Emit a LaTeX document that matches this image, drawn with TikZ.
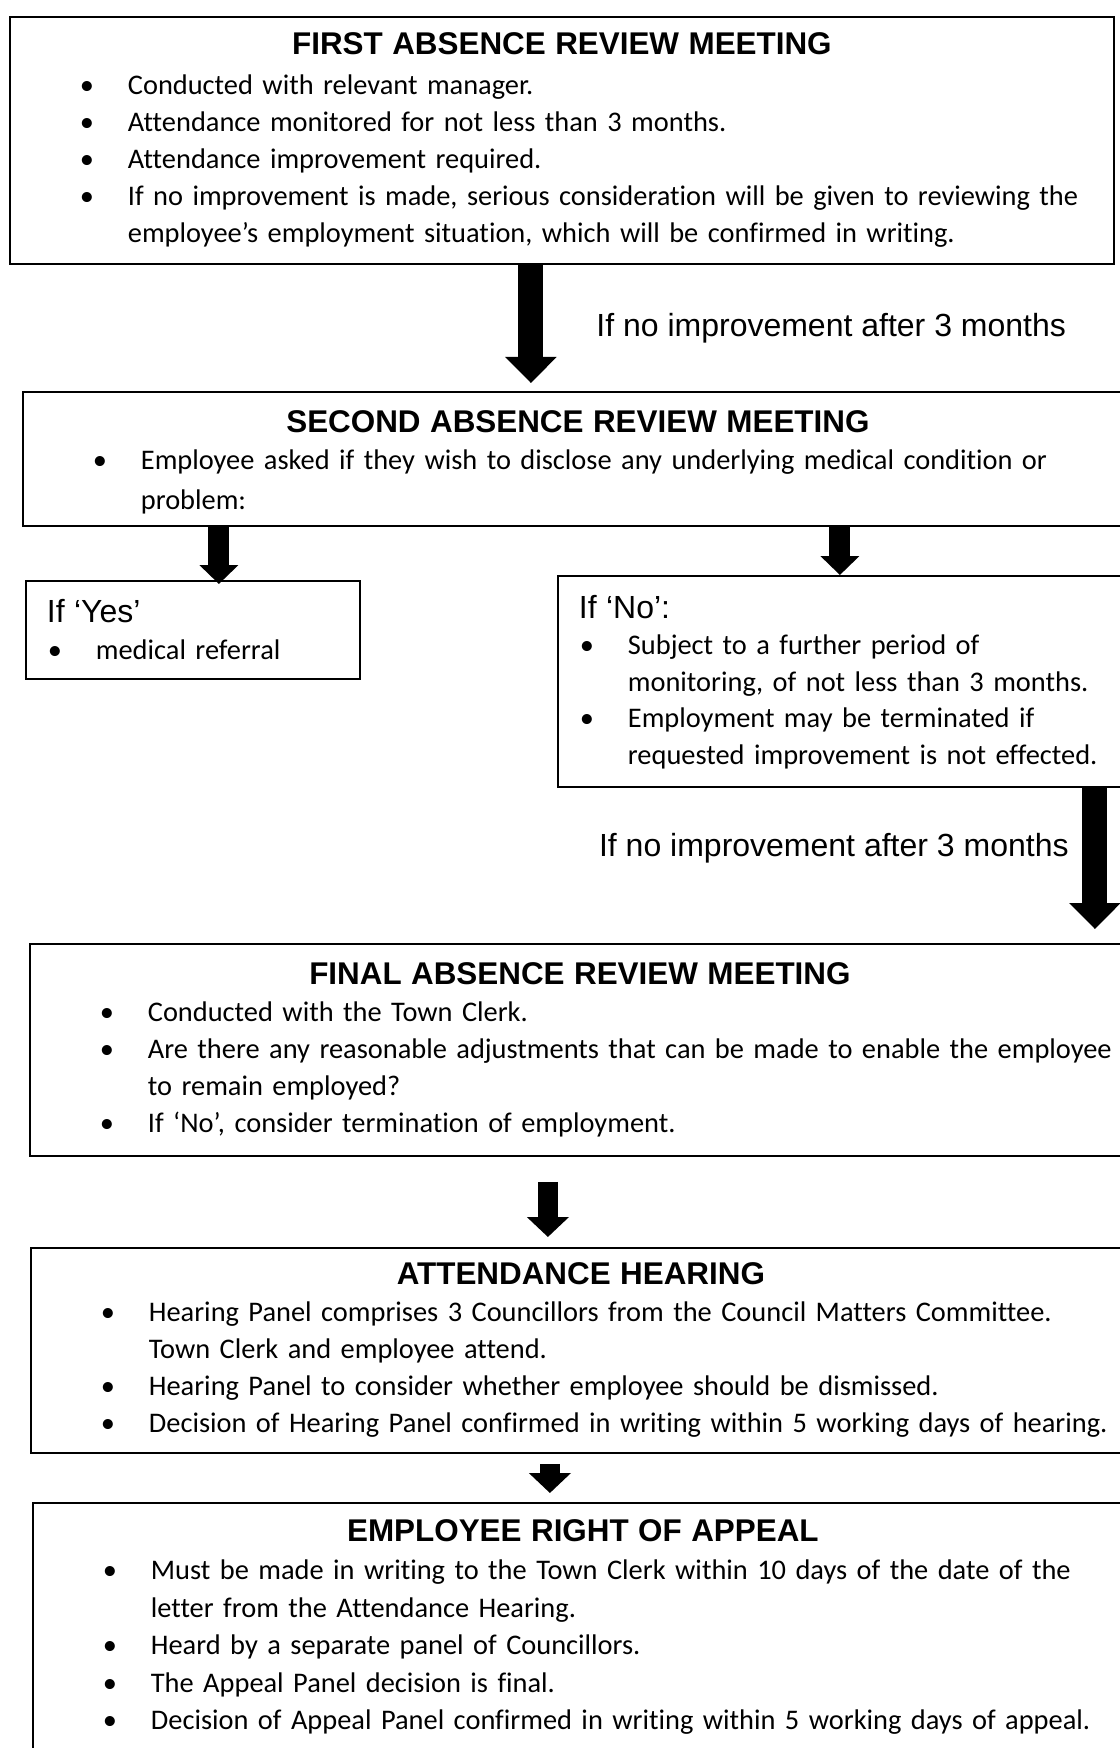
\documentclass[tikz,border=0pt]{standalone}
\usepackage{fontspec}
\setmainfont{Carlito}[Ligatures=NoCommon]
\newfontfamily\arialfont{Liberation Sans}
\usetikzlibrary{arrows.meta}
\usetikzlibrary{positioning}

\newcommand{\boxhead}[1]{{\centering\arialfont\bfseries\fontsize{15.7}{18.5}\selectfont #1\par}}
\newcommand{\bigitem}[1]{\par\noindent\hangindent=59pt\hangafter=1\makebox[59pt][l]{\hspace*{35pt}\textbullet}#1\par}
\newcommand{\smallhead}[1]{\par\noindent\hspace*{10.5pt}{\arialfont\fontsize{16}{18.5}\selectfont #1}\par}
\newcommand{\smallitem}[1]{\par\noindent\hangindent=35pt\hangafter=1\makebox[35pt][l]{\hspace*{11pt}\textbullet}#1\par}

\begin{document}
\hyphenpenalty=10000
\exhyphenpenalty=10000
\begin{tikzpicture}[x=0.5pt,y=-0.5pt,
    stage/.style={draw,line width=0.9pt,anchor=north west,inner sep=0pt,align=left,
      font=\fontsize{14.2}{18.5}\selectfont},
    note/.style={inner sep=0pt,font=\arialfont\fontsize{16}{19}\selectfont},
    bigarrow/.style={line width=12.5pt,-{Triangle[width=25pt,length=13pt]}},
    midarrow/.style={line width=10.5pt,-{Triangle[width=19pt,length=9.5pt]}},
    smallarrow/.style={line width=10pt,-{Triangle[width=20.5pt,length=10pt]}}]
    \useasboundingbox (0,0) rectangle (1119,1748);

    \node[stage,text width=552pt,minimum height=123.5pt] (first) at (9,16) {%
      \boxhead{FIRST ABSENCE REVIEW MEETING}
      \vspace{1.5pt}
      \bigitem{Conducted with relevant manager.}
      \bigitem{Attendance monitored for not less than 3 months.}
      \bigitem{Attendance improvement required.}
      \bigitem{If no improvement is made, serious consideration will be given to reviewing the\newline
        employee’s employment situation, which will be confirmed in writing.}};

    \node[stage,text width=555pt,minimum height=67pt] (second) at (22,391) {%
      \boxhead{SECOND ABSENCE REVIEW MEETING}
      \bigitem{Employee asked if they wish to disclose any underlying medical condition or\newline
        \rule{0pt}{16.5pt}problem:}
      \kern-3.5pt};

    \node[stage,text width=167pt,minimum height=49pt] (yes) at (25,580) {%
      \smallhead{If ‘Yes’}
      \smallitem{medical referral}
      \kern7pt};

    \node[stage,text width=287.5pt,minimum height=105.5pt] (no) at (557,575) {%
      \fontsize{14.2}{18.2}\selectfont
      \smallhead{If ‘No’:}
      \smallitem{Subject to a further period of\newline monitoring, of not less than 3 months.}
      \smallitem{Employment may be terminated if\newline requested improvement is not effected.}
      \kern6pt};

    \node[stage,text width=550pt,minimum height=106pt] (final) at (29,943) {%
      \boxhead{FINAL ABSENCE REVIEW MEETING}
      \bigitem{Conducted with the Town Clerk.}
      \bigitem{Are there any reasonable adjustments that can be made to enable the employee\newline
        to remain employed?}
      \bigitem{If ‘No’, consider termination of employment.}};

    \node[stage,text width=550pt,minimum height=102.5pt] (hearing) at (30,1247) {%
      \boxhead{ATTENDANCE HEARING}
      \bigitem{Hearing Panel comprises 3 Councillors from the Council Matters Committee.\newline
        Town Clerk and employee attend.}
      \bigitem{Hearing Panel to consider whether employee should be dismissed.}
      \bigitem{Decision of Hearing Panel confirmed in writing within 5 working days of hearing.}};

    \node[stage,text width=550pt,minimum height=130pt] (appeal) at (32,1502) {%
      \fontsize{14.2}{18.8}\selectfont
      \boxhead{EMPLOYEE RIGHT OF APPEAL}
      \bigitem{Must be made in writing to the Town Clerk within 10 days of the date of the\newline
        letter from the Attendance Hearing.}
      \bigitem{Heard by a separate panel of Councillors.}
      \bigitem{The Appeal Panel decision is final.}
      \bigitem{Decision of Appeal Panel confirmed in writing within 5 working days of appeal.}
      \kern5.5pt};

    \coordinate (a1) at ([xshift=-15.5pt]first.south);
    \coordinate (a2) at ([xshift=-179.5pt]second.south);
    \coordinate (a3) at ([xshift=131pt]second.south);
    \coordinate (a4) at ([xshift=124.75pt]no.south);
    \coordinate (a5) at ([xshift=-16pt]final.south);
    \coordinate (a6) at ([xshift=-15.5pt]hearing.south);

    \draw[bigarrow,shorten >=4pt] (a1) -- (a1 |- second.north);
    \draw[midarrow,shorten >=-2pt] (a2) -- (a2 |- yes.north);
    \draw[midarrow] (a3) -- (a3 |- no.north);
    \draw[bigarrow,shorten >=7pt] (a4) -- (a4 |- final.north);
    \draw[smallarrow,shorten <=12.5pt,shorten >=5pt] (a5) -- (a5 |- hearing.north);
    \draw[smallarrow,shorten <=5pt,shorten >=4.5pt] (a6) -- (a6 |- appeal.north);

    \node[note,anchor=west] (wait1) at (596,328) {If no improvement after 3 months};
    \node[note,anchor=east] (wait2) at (1069,848) {If no improvement after 3 months};

  \end{tikzpicture}
\end{document}
